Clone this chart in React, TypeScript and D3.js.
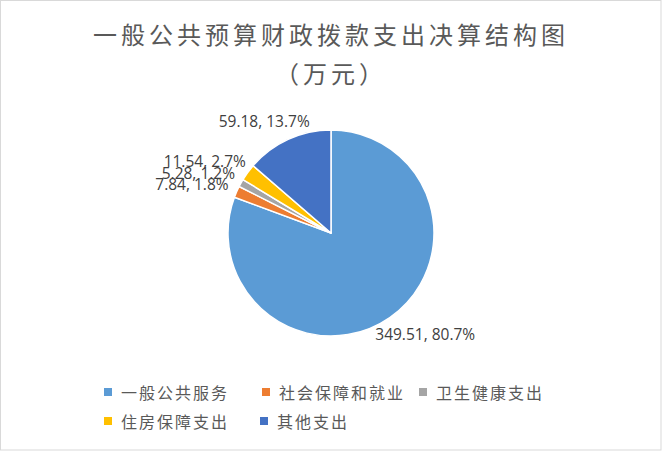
import React, { useEffect, useRef } from 'react';
import * as d3 from 'd3';

const categories = ['一般公共服务', '社会保障和就业', '卫生健康支出', '住房保障支出', '其他支出'];
const values = [349.51, 7.84, 5.28, 11.54, 59.18];
const percents = ['80.7%', '1.8%', '1.2%', '2.7%', '13.7%'];
const colors = ['#5B9BD5', '#ED7D31', '#A5A5A5', '#FFC000', '#4472C4'];
const titleLines = ['一般公共预算财政拨款支出决算结构图', '（万元）'];

const W = 662;
const H = 452;

const App: React.FC = () => {
  const svgRef = useRef<SVGSVGElement>(null);

  useEffect(() => {
    if (!svgRef.current) return;
    const svg = d3.select(svgRef.current);
    svg.selectAll('*').remove();

    const cjk = '"Noto Sans CJK SC", "Noto Sans", sans-serif';

    svg.append('rect')
      .attr('x', 0.5).attr('y', 0.5)
      .attr('width', W - 1.5).attr('height', H - 2.5)
      .attr('fill', '#fff')
      .attr('stroke', '#D9D9D9');

    // Title
    svg.append('g').selectAll('text')
      .data(titleLines)
      .join('text')
      .attr('x', 331)
      .attr('y', (d, i) => 33 + i * 39)
      .attr('text-anchor', 'middle')
      .attr('dominant-baseline', 'central')
      .attr('fill', '#595959')
      .style('font-family', cjk)
      .style('font-size', '24px')
      .style('letter-spacing', '4px')
      .text(d => d);

    const cx = 331, cy = 233, radius = 103;
    const pie = d3.pie<number>().sort(null).value(d => d);
    const arcs = pie(values);
    const arc = d3.arc<d3.PieArcDatum<number>>().innerRadius(0).outerRadius(radius);

    const g = svg.append('g').attr('transform', `translate(${cx},${cy})`);
    g.selectAll('path')
      .data(arcs)
      .join('path')
      .attr('d', arc)
      .attr('fill', (d, i) => colors[i])
      .attr('stroke', '#fff')
      .attr('stroke-width', 1.5)
      .attr('stroke-linejoin', 'round');

    // Data labels, outside end
    const labelR = radius + 12;
    arcs.forEach((d, i) => {
      const a = (d.startAngle + d.endAngle) / 2;
      const px = labelR * Math.sin(a);
      const py = -labelR * Math.cos(a);
      const t = g.append('text')
        .attr('text-anchor', 'middle')
        .attr('dominant-baseline', 'central')
        .attr('fill', '#404040')
        .style('font-family', '"Open Sans", sans-serif')
        .style('font-size', '15.5px')
        .text(`${values[i]}, ${percents[i]}`);
      const bb = (t.node() as SVGTextElement).getBBox();
      t.attr('x', px + Math.sin(a) * bb.width / 2)
        .attr('y', py - Math.cos(a) * 8);
    });

    // Legend
    const legendPos = [
      { x: 104, y: 392 }, { x: 262, y: 392 }, { x: 419, y: 392 },
      { x: 104, y: 421 }, { x: 260, y: 421 },
    ];
    const lg = svg.append('g');
    categories.forEach((c, i) => {
      const p = legendPos[i];
      lg.append('rect')
        .attr('x', p.x).attr('y', p.y - 4)
        .attr('width', 8).attr('height', 8)
        .attr('fill', colors[i]);
      lg.append('text')
        .attr('x', p.x + 17)
        .attr('y', p.y)
        .attr('dominant-baseline', 'central')
        .attr('fill', '#595959')
        .style('font-family', cjk)
        .style('font-size', '16px')
        .style('letter-spacing', '2px')
        .text(c);
    });
  }, []);

  return (
    <svg
      ref={svgRef}
      width={W}
      height={H}
      style={{ position: 'absolute', left: 0, top: 0, background: '#fff' }}
    />
  );
};

export default App;
